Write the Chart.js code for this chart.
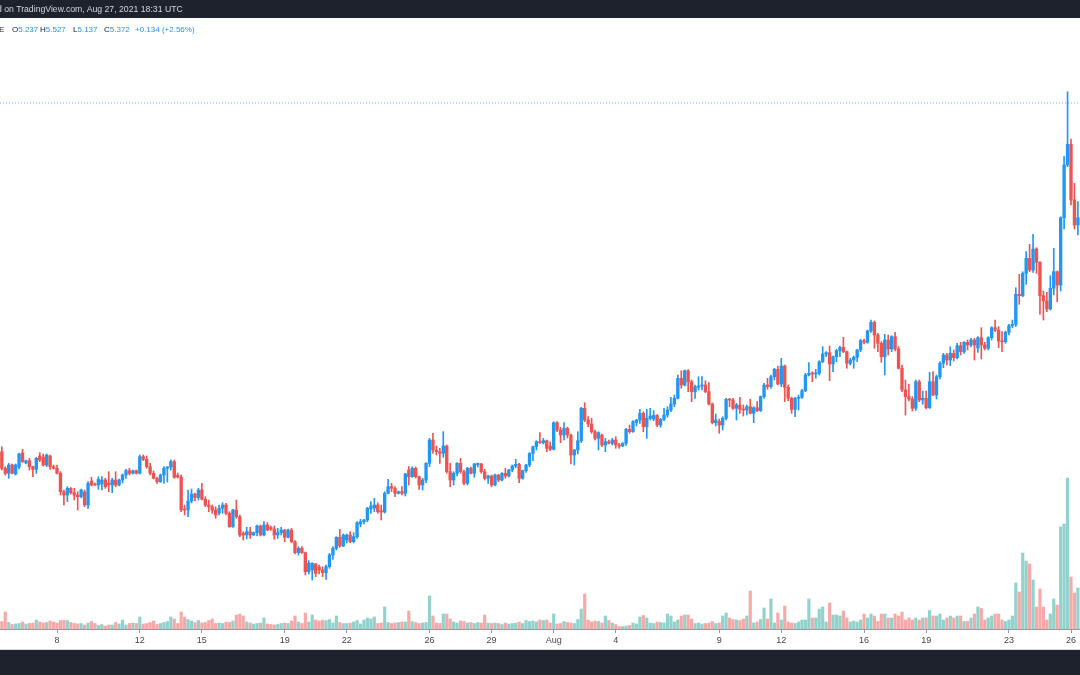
<!DOCTYPE html>
<html>
<head>
<meta charset="utf-8">
<title>4h candles</title>
<script src="https://cdn.jsdelivr.net/npm/chart.js@4.4.1/dist/chart.umd.min.js"></script>
<style>
  html, body { margin: 0; padding: 0; background: #ffffff; }
  #wrap { position: relative; width: 1080px; height: 675px; overflow: hidden; font-family: "Liberation Sans", Arial, sans-serif; }
  #chart { position: absolute; left: 0; top: 0; }
  #topbar { position: absolute; left: 0; top: 0; width: 1080px; height: 18px; background: #1e222d; }
  #topbar span { position: absolute; left: -3px; top: 4px; font-size: 8.7px; color: #d1d4dc; white-space: nowrap; }
  #bottombar { position: absolute; left: 0; top: 649px; width: 1080px; height: 26px; background: #1e222d; border-top: 1px solid #d6d8dd; }
  #legend > span { position: absolute; top: 25px; font-size: 8px; white-space: nowrap; }
  .lbl { color: #131722; }
  .val { color: #2196f3; }
</style>
</head>
<body>
<div id="wrap">
  <canvas id="chart" width="1080" height="675"></canvas>
  <div id="topbar"><span>d on TradingView.com, Aug 27, 2021 18:31 UTC</span></div>
  <div id="legend">
    <span class="lbl" style="left:-1px">E</span>
    <span style="left:12px"><span class="lbl">O</span><span class="val">5.237</span></span>
    <span style="left:40px"><span class="lbl">H</span><span class="val">5.527</span></span>
    <span style="left:73px"><span class="lbl">L</span><span class="val">5.137</span></span>
    <span style="left:104px"><span class="lbl">C</span><span class="val">5.372</span></span>
    <span class="val" style="left:135px">+0.134 (+2.56%)</span>
  </div>
  <div id="bottombar"></div>
</div>
<script>
// 4h candles, first one opens Jul 5 2021 08:00 UTC
const firstCandle = Date.UTC(2021, 6, 5, 8);
const candleHours = 4;

const opens = [
  3.083,2.917,2.867,2.950,2.860,2.930,3.070,2.970,2.993,2.933,2.907,3.040,
  3.030,2.950,3.040,2.933,2.917,2.867,2.683,2.650,2.717,2.673,2.650,2.633,2.680,2.550,2.790,2.758,2.750,
  2.760,2.800,2.770,2.750,2.800,2.750,2.800,2.850,2.893,2.867,2.893,2.867,3.033,3.007,2.933,2.867,2.817,2.783,2.850,2.917,2.930,
  2.983,2.845,2.830,2.510,2.500,2.590,2.660,2.625,2.700,2.607,2.550,2.533,2.500,
  2.470,2.517,2.550,2.467,2.333,2.500,2.433,2.265,2.250,2.283,2.250,2.273,2.340,2.250,2.350,2.325,2.310,2.250,2.273,2.300,2.227,2.300,
  2.183,2.073,2.117,
  2.073,1.883,1.900,1.960,1.930,1.900,1.873,1.933,2.050,2.117,2.227,2.140,2.200,2.250,
  2.183,2.233,2.360,2.383,2.400,2.510,2.520,2.550,2.493,2.480,2.667,2.733,2.717,2.667,2.683,2.667,2.900,2.833,2.917,2.833,2.750,2.800,2.967,
  3.200,3.100,3.083,3.067,3.140,2.883,2.800,2.867,2.967,2.883,
  2.767,2.917,2.867,2.955,2.960,2.883,2.817,2.840,2.750,2.850,
  2.800,2.867,2.840,2.900,2.940,2.957,2.817,2.893,2.950,3.067,
  3.133,3.183,3.173,3.193,3.140,3.107,3.373,3.300,3.250,3.317,
  3.250,3.050,3.100,3.193,3.517,3.400,3.360,3.283,3.217,3.250,
  3.150,3.183,3.167,3.200,3.150,3.140,3.167,3.307,3.283,3.375,
  3.400,3.467,3.333,
  3.417,3.410,3.445,3.350,3.407,3.450,3.500,3.560,3.617,3.817,
  3.750,3.893,3.783,3.683,3.728,3.740,3.750,3.683,3.560,3.373,
  3.385,3.350,3.417,3.607,3.600,3.517,3.550,3.507,3.500,3.533,
  3.467,3.523,3.493,3.633,3.750,3.733,3.833,3.907,3.760,3.940,
  3.727,3.617,3.507,3.617,3.627,3.693,3.850,3.867,3.860,3.867,
  3.983,4.060,4.073,3.960,4.033,4.093,4.127,4.083,3.967,4.000,
  4.027,4.100,4.193,
  4.177,4.290,4.377,4.250,4.167,4.033,4.200,4.110,4.233,4.110,
  3.917,3.700,3.633,3.610,3.517,3.783,3.600,3.617,3.523,3.783,
  3.650,3.833,3.967,4.050,4.000,4.067,4.023,4.143,4.083,4.177,
  4.150,4.200,4.120,4.223,4.150,4.117,4.223,4.323,4.300,4.190,
  4.183,4.277,4.343,4.357,4.657,4.643,4.867,5.017,4.900,5.110,
  4.977,4.643,4.590,4.510,4.717,4.883,4.750,5.423,5.950,6.157,
  5.600,5.350
];

const highs = [
  3.133,2.933,2.967,2.960,2.960,3.070,3.107,3.000,3.017,2.940,3.027,3.073,
  3.060,3.060,3.050,2.950,2.950,2.883,2.700,2.733,2.725,2.717,2.683,2.710,2.700,2.783,2.827,2.770,2.833,
  2.833,2.817,2.883,2.817,2.883,2.810,2.860,2.907,2.917,2.900,2.900,3.050,3.050,3.040,2.967,2.890,2.830,2.860,2.933,2.933,3.000,
  3.000,2.870,2.850,2.550,2.700,2.710,2.670,2.717,2.767,2.633,2.600,2.550,2.533,
  2.550,2.573,2.567,2.483,2.507,2.600,2.450,2.283,2.327,2.327,2.280,2.350,2.350,2.383,2.373,2.340,2.340,2.317,2.327,2.307,2.310,2.317,
  2.193,2.133,2.133,
  2.080,1.993,1.973,1.967,1.950,1.933,1.950,2.067,2.133,2.233,2.307,2.260,2.260,2.283,
  2.273,2.383,2.407,2.407,2.527,2.583,2.617,2.573,2.550,2.683,2.807,2.767,2.733,2.690,2.733,2.867,2.935,2.933,2.930,2.840,2.817,2.973,3.217,
  3.267,3.140,3.117,3.283,3.150,2.967,2.883,2.973,3.017,2.900,
  2.927,2.930,2.967,2.970,2.967,2.907,2.850,2.850,2.860,2.855,
  2.873,2.917,2.907,2.950,3.007,2.967,2.900,2.957,3.073,3.140,
  3.193,3.273,3.217,3.200,3.183,3.383,3.383,3.327,3.373,3.330,
  3.260,3.107,3.283,3.527,3.573,3.433,3.417,3.300,3.283,3.260,
  3.217,3.200,3.217,3.233,3.167,3.173,3.317,3.350,3.393,3.407,
  3.507,3.483,3.507,
  3.517,3.493,3.455,3.417,3.517,3.533,3.627,3.650,3.850,3.893,
  3.900,3.905,3.800,3.750,3.833,3.833,3.793,3.773,3.570,3.460,
  3.410,3.433,3.617,3.617,3.617,3.567,3.627,3.550,3.550,3.607,
  3.533,3.583,3.640,3.767,3.817,3.850,3.917,3.940,4.017,3.950,
  3.750,3.630,3.627,3.650,3.707,3.867,3.973,3.883,3.907,3.993,
  4.133,4.083,4.140,4.040,4.107,4.140,4.227,4.090,4.017,4.040,
  4.107,4.207,4.210,
  4.300,4.400,4.390,4.267,4.183,4.257,4.250,4.243,4.277,4.133,
  3.950,3.800,3.757,3.633,3.800,3.800,3.690,3.690,3.877,3.883,
  3.850,3.983,4.067,4.067,4.133,4.100,4.167,4.177,4.183,4.200,
  4.217,4.217,4.233,4.323,4.177,4.233,4.333,4.400,4.333,4.283,
  4.290,4.357,4.400,4.723,4.857,4.883,5.083,5.157,5.257,5.123,
  4.983,4.690,4.677,4.843,5.117,4.890,5.433,6.033,6.683,6.210,
  5.767,5.583
];

const lows = [
  2.900,2.850,2.817,2.860,2.850,2.910,2.975,2.960,2.900,2.833,2.867,2.983,
  2.940,2.933,2.907,2.910,2.860,2.650,2.550,2.583,2.660,2.600,2.500,2.620,2.533,2.517,2.740,2.745,2.707,
  2.700,2.717,2.683,2.673,2.733,2.740,2.770,2.817,2.850,2.860,2.860,2.860,2.993,2.917,2.850,2.810,2.767,2.775,2.767,2.780,2.900,
  2.817,2.820,2.483,2.450,2.433,2.570,2.590,2.600,2.600,2.533,2.483,2.467,2.417,
  2.450,2.467,2.450,2.327,2.327,2.417,2.233,2.200,2.210,2.217,2.245,2.240,2.240,2.240,2.293,2.295,2.207,2.217,2.250,2.183,2.220,2.173,
  2.060,2.050,2.067,
  1.850,1.860,1.800,1.833,1.860,1.833,1.807,1.917,2.007,2.100,2.127,2.133,2.170,2.173,
  2.170,2.217,2.333,2.360,2.383,2.467,2.483,2.467,2.400,2.470,2.660,2.683,2.633,2.660,2.650,2.640,2.750,2.827,2.820,2.707,2.700,2.773,2.933,
  3.067,3.050,2.967,3.027,2.867,2.733,2.750,2.840,2.867,2.750,
  2.750,2.860,2.827,2.930,2.867,2.800,2.767,2.733,2.740,2.783,
  2.790,2.817,2.830,2.883,2.923,2.773,2.807,2.875,2.933,2.993,
  3.100,3.167,3.160,3.083,3.093,3.100,3.283,3.173,3.200,3.220,
  2.960,2.950,3.060,3.173,3.383,3.333,3.267,3.200,3.100,3.133,
  3.083,3.160,3.150,3.117,3.117,3.133,3.145,3.267,3.275,3.340,
  3.367,3.283,3.217,
  3.400,3.393,3.333,3.327,3.393,3.427,3.483,3.533,3.610,3.717,
  3.740,3.683,3.583,3.617,3.700,3.700,3.673,3.550,3.360,3.340,
  3.267,3.300,3.400,3.533,3.507,3.400,3.467,3.440,3.450,3.460,
  3.373,3.483,3.485,3.617,3.707,3.717,3.800,3.750,3.733,3.583,
  3.593,3.467,3.433,3.500,3.617,3.683,3.840,3.783,3.817,3.850,
  3.973,4.033,3.793,3.883,3.983,4.033,4.073,3.917,3.950,3.917,
  3.983,4.083,4.160,
  4.167,4.277,4.117,4.083,3.977,3.850,4.050,4.083,4.090,3.910,
  3.683,3.450,3.590,3.490,3.495,3.583,3.557,3.510,3.515,3.643,
  3.610,3.810,3.923,3.950,3.943,3.990,4.010,4.050,4.067,4.100,
  4.133,4.000,4.077,4.010,4.100,4.100,4.200,4.283,4.123,4.083,
  4.167,4.250,4.323,4.333,4.557,4.633,4.757,4.883,4.877,4.867,
  4.457,4.400,4.483,4.500,4.650,4.583,4.690,5.310,5.933,5.550,
  5.310,5.250
];

const closes = [
  2.917,2.867,2.950,2.867,2.950,3.060,2.983,2.993,2.933,2.907,3.017,3.000,
  2.950,3.050,2.933,2.917,2.867,2.683,2.650,2.717,2.673,2.650,2.633,2.700,2.550,2.767,2.750,2.750,2.807,
  2.800,2.733,2.750,2.800,2.750,2.800,2.850,2.893,2.867,2.893,2.867,3.033,3.007,2.933,2.867,2.817,2.783,2.850,2.917,2.930,2.983,
  2.827,2.830,2.500,2.500,2.590,2.660,2.625,2.700,2.607,2.550,2.533,2.500,2.450,
  2.517,2.550,2.467,2.333,2.500,2.433,2.250,2.250,2.283,2.250,2.273,2.340,2.250,2.350,2.300,2.310,2.250,2.273,2.300,2.227,2.300,2.183,
  2.073,2.117,2.073,
  1.883,1.967,1.967,1.867,1.900,1.873,1.933,2.050,2.117,2.227,2.140,2.250,2.250,2.183,
  2.233,2.373,2.383,2.400,2.517,2.540,2.550,2.483,2.480,2.667,2.733,2.717,2.667,2.683,2.667,2.860,2.833,2.917,2.833,2.750,2.800,2.967,3.200,
  3.100,3.083,3.067,3.140,2.883,2.800,2.867,2.967,2.883,2.767,
  2.917,2.867,2.960,2.962,2.883,2.817,2.840,2.750,2.850,2.800,
  2.867,2.840,2.900,2.940,2.957,2.817,2.893,2.950,3.067,3.133,
  3.183,3.173,3.193,3.117,3.107,3.373,3.300,3.250,3.317,3.250,
  3.050,3.100,3.193,3.517,3.400,3.360,3.283,3.217,3.273,3.150,
  3.183,3.167,3.200,3.150,3.140,3.167,3.307,3.283,3.383,3.400,
  3.467,3.333,3.417,
  3.440,3.445,3.350,3.407,3.450,3.500,3.560,3.617,3.817,3.750,
  3.893,3.783,3.683,3.733,3.740,3.750,3.683,3.560,3.373,3.400,
  3.350,3.417,3.607,3.600,3.517,3.550,3.507,3.500,3.533,3.467,
  3.523,3.493,3.633,3.750,3.733,3.833,3.907,3.760,3.940,3.727,
  3.617,3.507,3.617,3.627,3.693,3.850,3.867,3.860,3.867,3.983,
  4.060,4.073,3.960,4.033,4.093,4.127,4.083,3.967,4.000,4.027,
  4.100,4.193,4.177,
  4.290,4.377,4.250,4.167,4.033,4.200,4.110,4.233,4.110,3.917,
  3.700,3.633,3.610,3.517,3.783,3.600,3.617,3.523,3.783,3.650,
  3.833,3.967,4.050,4.000,4.067,4.023,4.143,4.083,4.177,4.150,
  4.200,4.150,4.223,4.150,4.117,4.223,4.323,4.300,4.190,4.183,
  4.277,4.343,4.357,4.657,4.643,4.867,5.017,4.900,5.110,4.977,
  4.643,4.590,4.510,4.717,4.883,4.750,5.423,5.950,6.157,5.600,
  5.350,5.423
];

// volume, thousands
const volumes = [
  75,170,65,45,50,55,70,50,55,60,
  90,70,60,65,80,70,60,85,85,85,
  65,55,50,55,40,60,75,55,35,45,
  30,40,40,65,50,90,40,55,60,55,
  120,50,55,65,80,45,55,65,75,120,
  100,55,170,120,95,80,65,85,60,65,
  85,100,55,
  60,55,70,65,80,140,150,130,70,60,
  50,55,60,110,50,45,40,45,55,60,
  55,80,130,70,55,160,70,140,90,80,
  90,85,95,60,130,65,55,55,60,70,
  85,50,90,110,100,120,55,60,220,65,
  55,60,65,70,70,180,75,65,55,60,
  65,330,
  130,60,55,150,150,100,70,60,80,75,
  60,65,55,65,60,140,60,55,60,55,
  45,60,50,55,60,70,55,85,75,80,
  70,90,85,90,60,150,50,55,75,65,
  60,55,95,200,350,90,70,80,75,60,
  130,85,60,45,25,25,30,35,60,50,
  120,135,110,
  60,55,70,65,60,150,130,70,90,130,
  140,140,100,55,60,50,55,60,75,55,
  60,130,160,110,95,90,85,100,130,380,
  60,70,95,210,100,300,60,160,90,230,
  70,60,55,70,90,90,300,110,110,200,
  220,70,260,140,140,130,180,110,70,80,
  70,90,150,
  110,150,130,75,150,150,110,110,150,130,
  170,90,110,90,110,90,110,110,185,130,
  130,150,90,110,130,110,130,130,75,75,
  110,150,220,205,90,110,130,150,150,90,
  75,90,130,460,370,760,680,650,490,220,
  400,220,90,150,300,240,1020,1050,1510,520,
  360,410
];

const tickDates = ['2021-07-08','2021-07-12','2021-07-15','2021-07-19','2021-07-22','2021-07-26','2021-07-29',
                   '2021-08-01','2021-08-04','2021-08-09','2021-08-12','2021-08-16','2021-08-19','2021-08-23','2021-08-26'];
const tickLabels = ['8','12','15','19','22','26','29','Aug','4','9','12','16','19','23','26'];

const markerLevel = 6.57;      // dotted horizontal line
const viewStart = Date.UTC(2021, 6, 5, 5, 53);
const viewEnd = Date.UTC(2021, 7, 26, 10, 26);
const priceTop = 7.6, priceBottom = 1.31;
const volumeTop = 6290;

const upColor = '#2196f3', downColor = '#ef5350';
const upVol = 'rgba(38,166,154,0.5)', downVol = 'rgba(239,83,80,0.5)';

const times = opens.map((o, i) => firstCandle + i * candleHours * 3600000);
const rising = closes.map((c, i) => c >= opens[i]);

new Chart(document.getElementById('chart'), {
  type: 'bar',
  data: {
    datasets: [
      {
        label: 'body',
        data: times.map((t, i) => ({ x: t, y: [opens[i], closes[i]] })),
        backgroundColor: rising.map(u => u ? upColor : downColor),
        barThickness: 2.7,
        minBarLength: 1,
        grouped: false,
        yAxisID: 'y'
      },
      {
        label: 'wick',
        data: times.map((t, i) => ({ x: t, y: [lows[i], highs[i]] })),
        backgroundColor: rising.map(u => u ? upColor : downColor),
        barThickness: 1,
        grouped: false,
        yAxisID: 'y'
      },
      {
        label: 'volume',
        data: times.map((t, i) => ({ x: t, y: volumes[i] })),
        backgroundColor: rising.map(u => u ? upVol : downVol),
        barThickness: 2.5,
        grouped: false,
        yAxisID: 'yv'
      },
      {
        type: 'line',
        label: 'level',
        data: [{ x: viewStart, y: markerLevel }, { x: viewEnd, y: markerLevel }],
        borderColor: 'rgba(33,150,243,0.7)',
        borderWidth: 1,
        borderDash: [1, 2],
        pointRadius: 0,
        yAxisID: 'y'
      }
    ]
  },
  options: {
    responsive: false,
    animation: false,
    events: [],
    layout: { padding: 0 },
    plugins: { legend: { display: false }, tooltip: { enabled: false } },
    scales: {
      x: {
        type: 'linear',
        min: viewStart,
        max: viewEnd,
        offset: false,
        grid: { display: true, offset: false, drawOnChartArea: false, drawTicks: true, tickLength: 4, color: '#9598a1' },
        border: { display: true, color: '#9598a1' },
        ticks: {
          autoSkip: false,
          maxRotation: 0,
          padding: 2,
          color: '#434651',
          font: { family: 'Liberation Sans', size: 9 },
          callback: (v, i) => tickLabels[i]
        },
        afterBuildTicks: s => { s.ticks = tickDates.map(d => ({ value: Date.parse(d + 'T00:00:00Z') })); },
        afterFit: s => { s.height = 46; s.paddingLeft = 0; s.paddingRight = 0; }
      },
      y: { type: 'linear', display: false, min: priceBottom, max: priceTop },
      yv: { type: 'linear', display: false, min: 0, max: volumeTop }
    }
  }
});
</script>
</body>
</html>
